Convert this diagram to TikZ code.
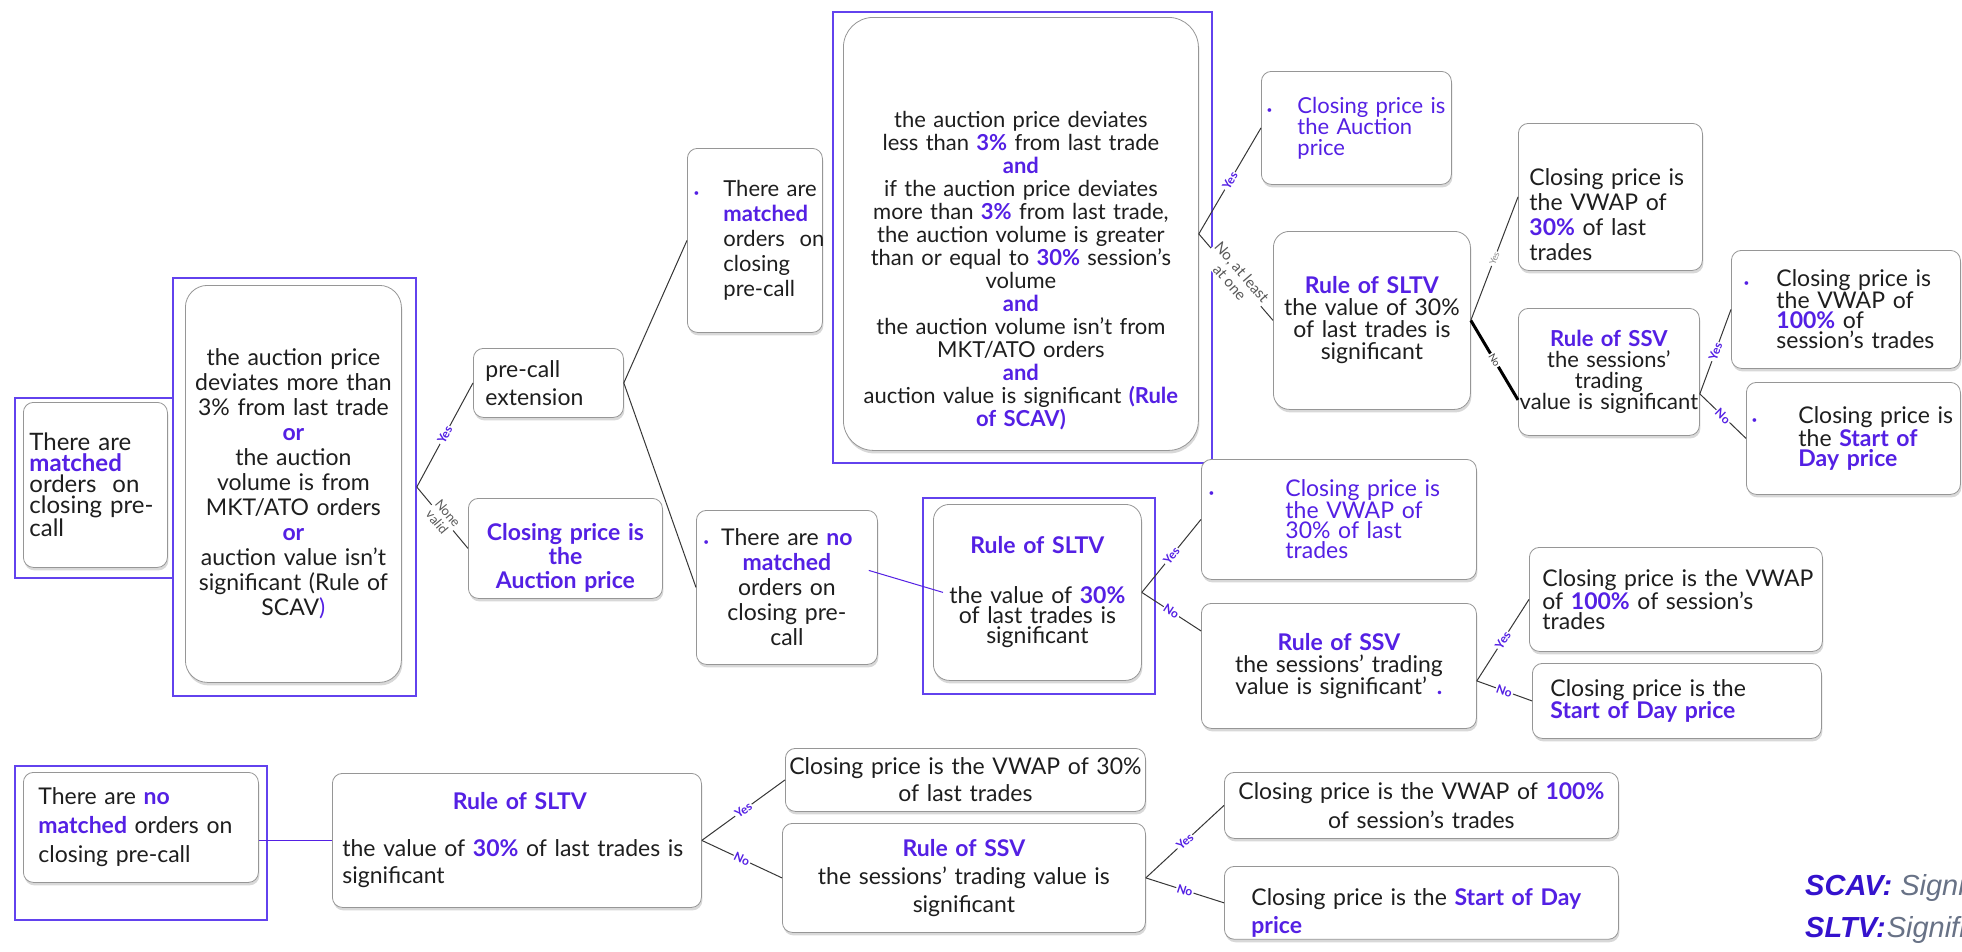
\documentclass[tikz,border=0pt]{standalone}
\usepackage{fontspec}
\setmainfont{Lato}
\newfontfamily\legfont{Liberation Sans}
\usepackage{tikz}
\usetikzlibrary{fit, shadows}

\definecolor{purp}{RGB}{84,32,228}
\definecolor{hlblue}{RGB}{98,66,238}
\definecolor{boxline}{RGB}{150,150,150}
\definecolor{txt}{RGB}{30,30,30}
\definecolor{linegray}{RGB}{55,55,55}
\definecolor{legblue}{RGB}{52,18,205}
\definecolor{leggray}{RGB}{104,114,134}

\newcommand\setfs[2]{\fontsize{#1}{#2}\selectfont}
\newcommand\hl[1]{\textcolor{purp}{\textbf{#1}}}
\newcommand\bul{\textcolor{purp}{\setfs{10}{10}\textbullet}}
\newcommand\padtop[1]{\rule{0pt}{#1pt}}

\begin{document}
\begin{tikzpicture}[x=1pt,y=-1pt]
		\tikzstyle{box}=[draw=boxline, line width=0.8pt, fill=white, rounded corners=10pt,
		drop shadow={shadow xshift=1pt, shadow yshift=-3pt, opacity=0.3},
		inner xsep=2pt, inner ysep=2pt, anchor=north west, text=txt, font=\setfs{23}{24}]
		\tikzstyle{hlbox}=[draw=hlblue, line width=1.6pt, inner sep=0pt]
		\tikzstyle{conn}=[draw=linegray, line width=1pt]
		\tikzstyle{blueline}=[draw=purp, line width=1pt]
		\tikzstyle{yn}=[sloped, fill=white, inner sep=1pt, text=purp, font=\setfs{12}{12}\bfseries]
		\tikzstyle{note}=[sloped, fill=white, inner sep=1pt, align=center, text=black!65]
		
		\useasboundingbox[fill=white] (0,0) rectangle (1962,951);
		
		%% Blue frames
		\node[hlbox, fit={(15,398) (173,578)}] (hlA) {};
		\node[hlbox, fit={(173,278) (416,696)}] (hlB) {};
		\node[hlbox, fit={(923,498) (1155,694)}] (hlC) {};
		\node[hlbox, fit={(833,12) (1212,463)}] (hlD) {};
		\node[hlbox, fit={(15,766) (267,920)}] (hlE) {};
		
		%% Matched orders on closing pre-call
		\node[box, minimum width=144pt, minimum height=165pt, text width=140pt, align=left,
		font=\setfs{24}{21}] (boxA) at (23,402)
		{\leftskip=4pt\relax There are\\\hl{matched}\\orders~~on\\closing pre-\\call\par};
		\node[box, rounded corners=22pt, minimum width=216pt, minimum height=397pt, text width=212pt,
		align=center, font=\setfs{23}{25}] (boxB) at (185,285)
		{the auction price\\deviates more than\\3\% from last trade\\\hl{or}\\the auction\\volume is from\\MKT/ATO orders\\\hl{or}\\auction value isn’t\\significant (Rule of\\SCAV\textcolor{purp}{)}};
		
		\node[box, minimum width=150pt, minimum height=69pt, text width=146pt, align=left,
		font=\setfs{23}{28}] (precall) at (473,348)
		{\leftskip=10pt\relax pre-call\\extension\par};
		\node[box, minimum width=194pt, minimum height=100pt, text width=190pt, align=center,
		text=purp, font=\setfs{23}{24}\bfseries] (auc1) at (468,498)
		{\padtop{37}Closing price is\\the\\Auction price};
		
		\node[box, minimum width=135pt, minimum height=184pt, text width=131pt, align=left,
		font=\setfs{22}{25}] (topM) at (687,148)
		{\leftskip=34pt\relax\noindent\llap{\bul\hspace{24pt}}There are\\\hl{matched}\\orders~~on\\closing\\pre-call\par};
		\node[box, minimum width=181pt, minimum height=154pt, text width=177pt, align=center,
		font=\setfs{23}{25}] (nomatch) at (696,510)
		{\llap{\bul\hspace{12pt}}There are \hl{no}\\\hl{matched}\\orders on\\closing pre-\\call};
		
		%% Price deviation conditions
		\node[box, rounded corners=30pt, minimum width=355pt, minimum height=433pt, text width=351pt,
		align=center, font=\setfs{22}{23}] (bigD) at (843,17)
		{\padtop{90}the auction price deviates\\less than \hl{3\%} from last trade\\\hl{and}\\if the auction price deviates\\more than \hl{3\%} from last trade,\\the auction volume is greater\\than or equal to \hl{30\%} session’s\\volume\\\hl{and}\\the auction volume isn’t from\\MKT/ATO orders\\\hl{and}\\auction value is significant \hl{(Rule}\\\hl{of SCAV)}};
		
		\node[box, minimum width=190pt, minimum height=113pt, text width=186pt, align=left,
		text=purp, font=\setfs{22}{21}] (auc2) at (1261,71)
		{\leftskip=34pt\relax\noindent\llap{\bul\hspace{25pt}}Closing price is\\the Auction\\price\par};
		\node[box, rounded corners=16pt, minimum width=197pt, minimum height=178pt, text width=193pt,
		align=center, font=\setfs{23}{22}] (sltvT) at (1273,231)
		{\hl{Rule of SLTV}\\the value of 30\%\\of last trades is\\significant};
		\node[box, minimum width=184pt, minimum height=147pt, text width=180pt, align=left,
		font=\setfs{23}{25}] (vwT) at (1518,123)
		{\leftskip=9pt\relax\padtop{52}Closing price is\\the VWAP of\\\hl{30\%} of last\\trades\par};
		\node[box, minimum width=181pt, minimum height=127pt, text width=177pt, align=center,
		font=\setfs{22}{21}] (ssvT) at (1518,308)
		{\hl{Rule of SSV}\\the sessions’\\trading\\\makebox[0pt]{value is significant}};
		\node[box, minimum width=229pt, minimum height=118pt, text width=225pt, align=left,
		font=\setfs{23}{20}] (vw100T) at (1731,250)
		{\leftskip=43pt\relax\noindent\llap{\bul\hspace{27pt}}Closing price is\\the VWAP of\\\hl{100\%} of\\session’s trades\par};
		\node[box, minimum width=214pt, minimum height=112pt, text width=210pt, align=left,
		font=\setfs{23}{20}] (sodT) at (1746,382)
		{\leftskip=50pt\relax\noindent\llap{\bul\hspace{41pt}}Closing price is\\the \hl{Start of}\\\hl{Day price}\par};
		
		%% No matched orders after extension
		\node[box, rounded corners=16pt, minimum width=208pt, minimum height=176pt, text width=204pt,
		align=center, font=\setfs{23}{20}] (sltvM) at (933,504)
		{\hl{Rule of SLTV}\\[30pt]the value of \hl{30\%}\\of last trades is\\significant};
		\node[box, minimum width=275pt, minimum height=120pt, text width=271pt, align=left,
		text=purp, font=\setfs{23}{20}] (vwM) at (1201,459)
		{\leftskip=82pt\relax\noindent\llap{\bul\hspace{71pt}}Closing price is\\the VWAP of\\30\% of last\\trades\par};
		\node[box, minimum width=275pt, minimum height=125pt, text width=271pt, align=center,
		font=\setfs{23}{22}] (ssvM) at (1201,603)
		{\hl{Rule of SSV}\\the sessions’ trading\\value is significant’\hspace{10pt}\textcolor{purp}{\textbf{.}}};
		\node[box, minimum width=293pt, minimum height=104pt, text width=289pt, align=left,
		font=\setfs{23}{20}] (vw100M) at (1529,547)
		{\leftskip=11pt\relax Closing price is the VWAP\\of \hl{100\%} of session’s\\trades\par};
		\node[box, minimum width=289pt, minimum height=75pt, text width=285pt, align=left,
		font=\setfs{23}{20}] (sodM) at (1532,663)
		{\leftskip=16pt\relax Closing price is the\\\hl{Start of Day price}\par};
		
		%% No matched orders on closing pre-call
		\node[box, minimum width=235pt, minimum height=110pt, text width=231pt, align=left,
		font=\setfs{23}{29}] (noB) at (23,772)
		{\leftskip=13pt\relax There are \hl{no}\\\hl{matched} orders on\\closing pre-call\par};
		\node[box, minimum width=369pt, minimum height=134pt, text width=365pt, align=left,
		font=\setfs{23}{27}] (sltvB) at (332,773)
		{\leftskip=8pt\relax\makebox[355pt][c]{\hl{Rule of SLTV}}\\[20pt]the value of \hl{30\%} of last trades is\\significant\par};
		\node[box, minimum width=360pt, minimum height=63pt, text width=356pt, align=center,
		font=\setfs{23}{27}] (vwB) at (785,748)
		{Closing price is the VWAP of 30\%\\of last trades};
		\node[box, minimum width=363pt, minimum height=109pt, text width=359pt, align=center,
		font=\setfs{23}{28}] (ssvB) at (782,823)
		{\hl{Rule of SSV}\\the sessions’ trading value is\\significant};
		\node[box, minimum width=394pt, minimum height=66pt, text width=390pt, align=center,
		font=\setfs{23}{29}] (vw100B) at (1224,772)
		{Closing price is the VWAP of \hl{100\%}\\of session’s trades};
		\node[box, minimum width=394pt, minimum height=66pt, text width=390pt, align=left,
		font=\setfs{23}{28}] (sodB) at (1224,866)
		{\leftskip=25pt\relax\padtop{37}Closing price is the \hl{Start of Day}\\\hl{price}\par};
		
		%% Connectors
		\draw[conn] (hlB.east) -- node[yn] {Yes} (precall.west);
		\draw[conn] (hlB.east) -- node[note, font=\setfs{13}{14}] {None\\valid} (auc1.west);
		\draw[conn] (precall.east) -- (topM.west);
		\draw[conn] (precall.east) -- (nomatch.west);
		
		\draw[conn] (bigD.east) -- node[yn] {Yes} (auc2.west);
		\draw[conn] (bigD.east) -- node[note, font=\setfs{15}{16}] {No, at least\\at one} (sltvT.west);
		\draw[conn] (sltvT.east) -- node[note, font=\setfs{9}{9}, text=black!45] {Yes} (vwT.west);
		\draw[conn, draw=black, line width=3pt] (sltvT.east) -- node[note, font=\setfs{10}{10}, text=black!75] {No} ([yshift=-28pt]ssvT.west);
		\draw[conn] ([yshift=-22pt]ssvT.east) -- node[yn] {Yes} (vw100T.west);
		\draw[conn] ([yshift=-22pt]ssvT.east) -- node[yn] {No} (sodT.west);
		
		\draw[blueline] ([shift={(-9pt,17pt)}]nomatch.east) -- ([xshift=10pt]sltvM.west);
		\draw[conn] (sltvM.east) -- node[yn] {Yes} (vwM.west);
		\draw[conn] (sltvM.east) -- node[yn] {No} ([yshift=35pt]ssvM.west);
		\draw[conn] ([yshift=-15pt]ssvM.east) -- node[yn] {Yes} (vw100M.west);
		\draw[conn] ([yshift=-15pt]ssvM.east) -- node[yn] {No} (sodM.west);
		
		\draw[blueline] (noB.east |- sltvB.west) -- (sltvB.west);
		\draw[conn] (sltvB.east) -- node[yn] {Yes} (vwB.west);
		\draw[conn] (sltvB.east) -- node[yn] {No} (ssvB.west);
		\draw[conn] (ssvB.east) -- node[yn] {Yes} (vw100B.west);
		\draw[conn] (ssvB.east) -- node[yn] {No} (sodB.west);
		
		%% Legend
		\node[anchor=base west, inner sep=0pt, text=legblue, font=\legfont\setfs{29}{29}\bfseries\itshape]
		(scav) at (1805,895) {SCAV: {\mdseries\color{leggray}Significant}};
		\node[anchor=base west, inner sep=0pt, text=legblue, font=\legfont\setfs{29}{29}\bfseries\itshape]
		(sltv) at (1805,937) {SLTV:{\mdseries\color{leggray}\hspace{1pt}Significant}};
\end{tikzpicture}
\end{document}
